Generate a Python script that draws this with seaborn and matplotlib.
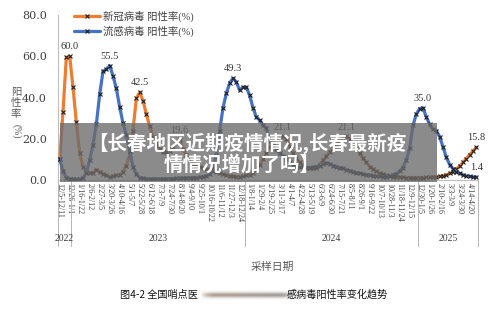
import numpy as np
import pandas as pd
import matplotlib
matplotlib.use("Agg")
import matplotlib.pyplot as plt
import matplotlib.transforms as mtransforms
from matplotlib.lines import Line2D
from matplotlib.patches import Rectangle
import seaborn as sns

# ---------------- data ----------------
start_week = "2022-12-05"
n_weeks = 126

covid = [10.0, 33.0, 59.4, 60.0, 45.0, 28.0, 13.0, 6.5, 4.0, 3.4,
         3.6, 5.0, 4.0, 3.0, 2.2, 1.6, 2.0, 2.4, 2.4, 4.0,
         7.0, 12.0, 24.0, 39.6, 42.5, 38.5, 32.0, 26.0, 21.0, 17.5,
         15.0, 13.5, 13.5, 14.0, 16.0, 18.0, 19.6, 15.0, 12.0, 9.5,
         8.0, 7.0, 6.3, 6.0, 5.3, 4.8, 4.3, 3.8, 3.3, 2.8,
         2.3, 1.9, 1.7, 1.6, 1.6, 1.8, 2.2, 2.6, 3.4, 5.0,
         7.5, 10.0, 13.0, 16.0, 18.5, 20.0, 20.8, 21.1, 20.0, 16.5,
         13.0, 10.5, 8.5, 7.0, 6.0, 5.8, 5.6, 6.0, 7.5, 9.5,
         11.5, 13.5, 15.5, 17.5, 19.5, 20.5, 21.1, 20.0, 18.0, 15.5,
         13.0, 10.5, 8.5, 6.5, 5.2, 4.2, 3.4, 2.8, 2.2, 1.8,
         1.5, 1.4, 1.3, 1.3, 1.2, 1.2, 1.2, 1.2, 1.2, 1.2,
         1.3, 1.3, 1.4, 1.5, 1.7, 2.0, 2.5, 3.2, 4.0, 5.3,
         6.8, 8.5, 10.4, 12.3, 14.0, 15.8]

flu = [10.0, 4.5, 1.2, 0.6, 0.4, 0.3, 0.3, 1.0, 3.5, 9.7,
       17.0, 27.0, 41.5, 52.7, 53.6, 55.5, 50.5, 44.4, 35.5, 27.5,
       22.0, 14.0, 6.5, 2.8, 1.2, 0.8, 0.6, 0.5, 0.5, 0.5,
       0.5, 0.5, 0.6, 0.6, 0.7, 0.8, 0.8, 0.9, 1.0, 1.0,
       1.1, 1.2, 1.4, 1.6, 2.0, 3.0, 6.0, 12.0, 24.0, 35.0,
       42.0, 47.0, 49.3, 47.5, 43.5, 45.0, 45.0, 41.0, 35.0, 30.5,
       29.0, 26.5, 25.0, 19.0, 16.5, 14.5, 13.0, 11.5, 10.0, 8.5,
       7.2, 6.5, 6.2, 6.0, 6.0, 6.0, 6.2, 6.5, 7.0, 7.8,
       8.2, 7.8, 7.0, 6.5, 6.0, 5.6, 5.0, 4.5, 4.0, 3.5,
       3.2, 2.8, 2.6, 2.4, 2.1, 1.9, 1.7, 1.6, 1.6, 2.0,
       2.4, 3.0, 4.2, 6.0, 9.7, 15.5, 26.5, 32.0, 34.6, 35.0,
       30.5, 27.0, 24.5, 24.0, 21.0, 16.0, 11.0, 7.5, 5.5, 4.0,
       3.2, 2.5, 2.0, 1.7, 1.5, 1.4]

series_names = ["新冠病毒 阳性率(%)", "流感病毒 阳性率(%)"]
covid_label_idx = [3, 24, 36, 67, 86, 125]
flu_label_idx = [15, 52, 109, 125]
years = ["2022", "2023", "2024", "2025"]
year_sizes = [4, 52, 52, 18]
label_step = 3
y_ticks = [0, 20, 40, 60, 80]

banner_lines = ["【长春地区近期疫情情况,长春最新疫", "情情况增加了吗】"]
xlabel = "采样日期"
caption_left = "图4-2 全国哨点医"
caption_right = "感病毒阳性率变化趋势"
ylabel_chars = "阳\n性\n率"
ylabel_unit = "(%)"

# week category labels
starts = pd.date_range(start_week, periods=n_weeks, freq="7D")
ends = starts + pd.Timedelta(days=6)
week_labels = [f"{s.month}/{s.day}-{e.month}/{e.day}" for s, e in zip(starts, ends)]

df = pd.DataFrame({"idx": np.arange(n_weeks), "covid": covid, "flu": flu,
                   "week": week_labels})

# ---------------- style ----------------
sns.set_style("white")
plt.rcParams["font.family"] = ["Liberation Serif", "Noto Sans CJK SC", "DejaVu Sans"]
cjk = ["Noto Sans CJK SC", "DejaVu Sans"]

orange = "#ED7D31"
blue = "#4472C4"
txt = "#404040"

fig = plt.figure(figsize=(5.0, 3.09), dpi=100)
fig.patch.set_facecolor("white")
ax = fig.add_axes([58 / 500, 1 - 180 / 309, 420 / 500, 165 / 309])

mk = dict(marker="x", markersize=2.6, markeredgecolor="#1e1e1e", markeredgewidth=0.8)
sns.lineplot(data=df, x="idx", y="covid", ax=ax, color=orange, lw=2.3, zorder=3, **mk)
sns.lineplot(data=df, x="idx", y="flu", ax=ax, color=blue, lw=2.3, zorder=4, **mk)

ax.set_xlim(-0.5, n_weeks - 0.5)
ax.set_ylim(0, 80)
ax.set_xlabel("")
ax.set_ylabel("")

# y axis
ax.set_yticks(y_ticks)
ax.set_yticklabels([f"{v:.1f}" for v in y_ticks], fontsize=8, color=txt,
                   family=["DejaVu Serif"])
ax.tick_params(axis="y", length=3, color="#bfbfbf", width=0.7, pad=5)

# x axis: labels every 3rd week, tick lines between every category
major = np.arange(0, n_weeks, label_step)
ax.set_xticks(major)
ax.set_xticklabels([week_labels[i] for i in major], rotation=-90, fontsize=5.8,
                   color=txt, va="top", ha="center")
ax.set_xticks(np.arange(-0.5, n_weeks, 1.0), minor=True)
ax.tick_params(axis="x", which="major", length=0, pad=2.5)
ax.tick_params(axis="x", which="minor", length=31, color="#cfcfcf", width=0.6)

for s in ["top", "right"]:
    ax.spines[s].set_visible(False)
for s in ["left", "bottom"]:
    ax.spines[s].set_color("#bfbfbf")
    ax.spines[s].set_linewidth(0.8)

# year groups
trans = mtransforms.blended_transform_factory(ax.transData, ax.transAxes)
bounds = np.concatenate([[0], np.cumsum(year_sizes)]) - 0.5
for b in bounds:
    ax.plot([b, b], [0, -0.40], transform=trans, color="#b5b5b5", lw=0.7,
            clip_on=False)
for yr, a, b in zip(years, bounds[:-1], bounds[1:]):
    ax.text((a + b) / 2, -0.352, yr, transform=trans, ha="center", va="center",
            fontsize=7, color=txt)

# data labels
for i in covid_label_idx:
    ax.annotate(f"{covid[i]:.1f}", (i, covid[i]), xytext=(0, 6.8),
                textcoords="offset points", ha="center", va="center",
                fontsize=7.5, color="#333333", zorder=6)
for i in flu_label_idx:
    ax.annotate(f"{flu[i]:.1f}", (i, flu[i]), xytext=(0, 6.8),
                textcoords="offset points", ha="center", va="center",
                fontsize=7.5, color="#333333", zorder=6)

# legend
handles = [Line2D([], [], color=orange, lw=2.3, **mk),
           Line2D([], [], color=blue, lw=2.3, **mk)]
ax.legend(handles, series_names, loc="upper left", bbox_to_anchor=(0.038, 1.025),
          frameon=False, fontsize=7.5, handlelength=2.5, handletextpad=0.3,
          labelspacing=0.35, borderaxespad=0, borderpad=0,
          labelcolor="#404040")

# y label (stacked characters)
fig.text(16 / 500, 1 - 103 / 309, ylabel_chars, ha="center", va="center",
         fontsize=7.5, color="#595959", family=cjk, linespacing=1.15)
fig.text(16 / 500, 1 - 131 / 309, ylabel_unit, ha="center", va="center",
         fontsize=7, color="#595959", rotation=-90)

# x label and caption
fig.text(272 / 500, 1 - 267 / 309, xlabel, ha="center", va="center",
         fontsize=7.8, color="#595959", family=cjk)
fig.text(120 / 500, 1 - 295 / 309, caption_left, ha="left", va="center",
         fontsize=7.3, color="#111111", family=cjk)
fig.text(388 / 500, 1 - 295 / 309, caption_right, ha="right", va="center",
         fontsize=7.3, color="#111111", family=cjk)

# blurred patch in the caption
bax = fig.add_axes([201 / 500, 1 - 300 / 309, 92 / 500, 10 / 309])
xs = np.linspace(-1, 1, 120)
ys = np.linspace(-1, 1, 12)
alpha = np.outer(np.exp(-(ys / 0.55) ** 2), np.clip(1.15 - xs ** 6, 0, 1))
img = np.zeros((12, 120, 4))
img[..., 0] = np.linspace(0.62, 0.55, 120)
img[..., 1] = np.linspace(0.54, 0.52, 120)
img[..., 2] = np.linspace(0.48, 0.50, 120)
img[..., 3] = np.clip(alpha * 0.85, 0, 1)
bax.imshow(img, aspect="auto", interpolation="bicubic")
bax.axis("off")

# overlay banner
fig.add_artist(Rectangle((60 / 500, 1 - 182 / 309), 377 / 500, 59 / 309,
                         transform=fig.transFigure, facecolor="#6b6b6b",
                         edgecolor="none", alpha=0.78, zorder=10))
fig.text(247 / 500, 1 - 143 / 309, banner_lines[0], ha="center", va="center",
         fontsize=14, color="white", fontweight="bold", family=cjk, zorder=11)
fig.text(242 / 500, 1 - 165 / 309, banner_lines[1], ha="center", va="center",
         fontsize=14, color="white", fontweight="bold", family=cjk, zorder=11)

fig.savefig("out.png", dpi=100, facecolor="white")
